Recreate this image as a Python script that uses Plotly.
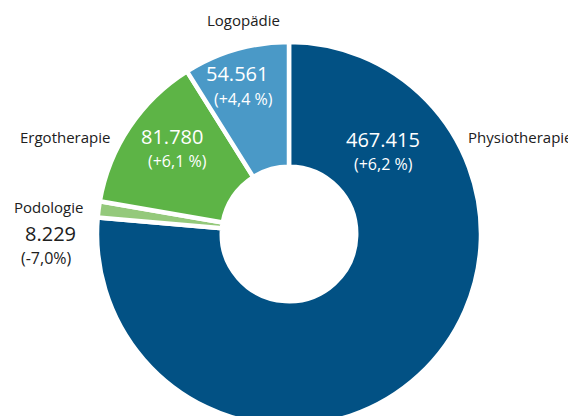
import plotly.graph_objects as go

categories = ["Physiotherapie", "Podologie", "Ergotherapie", "Logopädie"]
values = [467415, 8229, 81780, 54561]
value_labels = ["467.415", "8.229", "81.780", "54.561"]
change_labels = ["(+6,2 %)", "(-7,0%)", "(+6,1 %)", "(+4,4 %)"]
colors = ["#025184", "#94c97b", "#5db446", "#4a99c7"]

W, H = 576, 440
OFF = 8  # page body margin offset
FONT = "Open Sans"
TXT = "#202020"

# donut geometry (page pixels)
CX, CY, R = 289, 234, 192

def fx(x):
    return (x - OFF) / W

def fy(y):
    return 1 - (y - OFF) / H

fig = go.Figure()
fig.add_trace(go.Pie(
    labels=categories,
    values=values,
    sort=False,
    direction="clockwise",
    rotation=0,
    hole=0.35,
    textinfo="none",
    hoverinfo="label+value",
    marker=dict(colors=colors, line=dict(color="white", width=4.5)),
    domain=dict(x=[fx(CX - R), fx(CX + R)], y=[fy(CY + R), fy(CY - R)]),
    showlegend=False,
))

annos = []
def add(text, x, y, size, color, xanchor="center"):
    annos.append(dict(text=text, x=fx(x), y=fy(y), xref="paper", yref="paper",
                      showarrow=False, xanchor=xanchor, yanchor="middle",
                      align="center",
                      font=dict(family=FONT, size=size, color=color)))

# category labels
add(categories[3], 243, 20, 15, TXT)
add(categories[0], 466, 137, 15, TXT, "left")
add(categories[2], 112, 137, 15, TXT, "right")
add(categories[1], 48.5, 207.5, 15, TXT)
# value labels and changes
add(value_labels[0], 382.5, 139.3, 20, "white")
add(change_labels[0], 383, 164.3, 16, "white")
add(value_labels[2], 172, 136.4, 20, "white")
add(change_labels[2], 177.5, 161.4, 16, "white")
add(value_labels[3], 237, 73.9, 20, "white")
add(change_labels[3], 243, 98.9, 16, "white")
add(value_labels[1], 50.5, 233, 20, TXT)
add(change_labels[1], 46.5, 258, 16, TXT)

fig.update_layout(
    width=W, height=H,
    margin=dict(l=0, r=0, t=0, b=0),
    paper_bgcolor="white",
    plot_bgcolor="white",
    annotations=annos,
)

fig.write_html("out.html")
